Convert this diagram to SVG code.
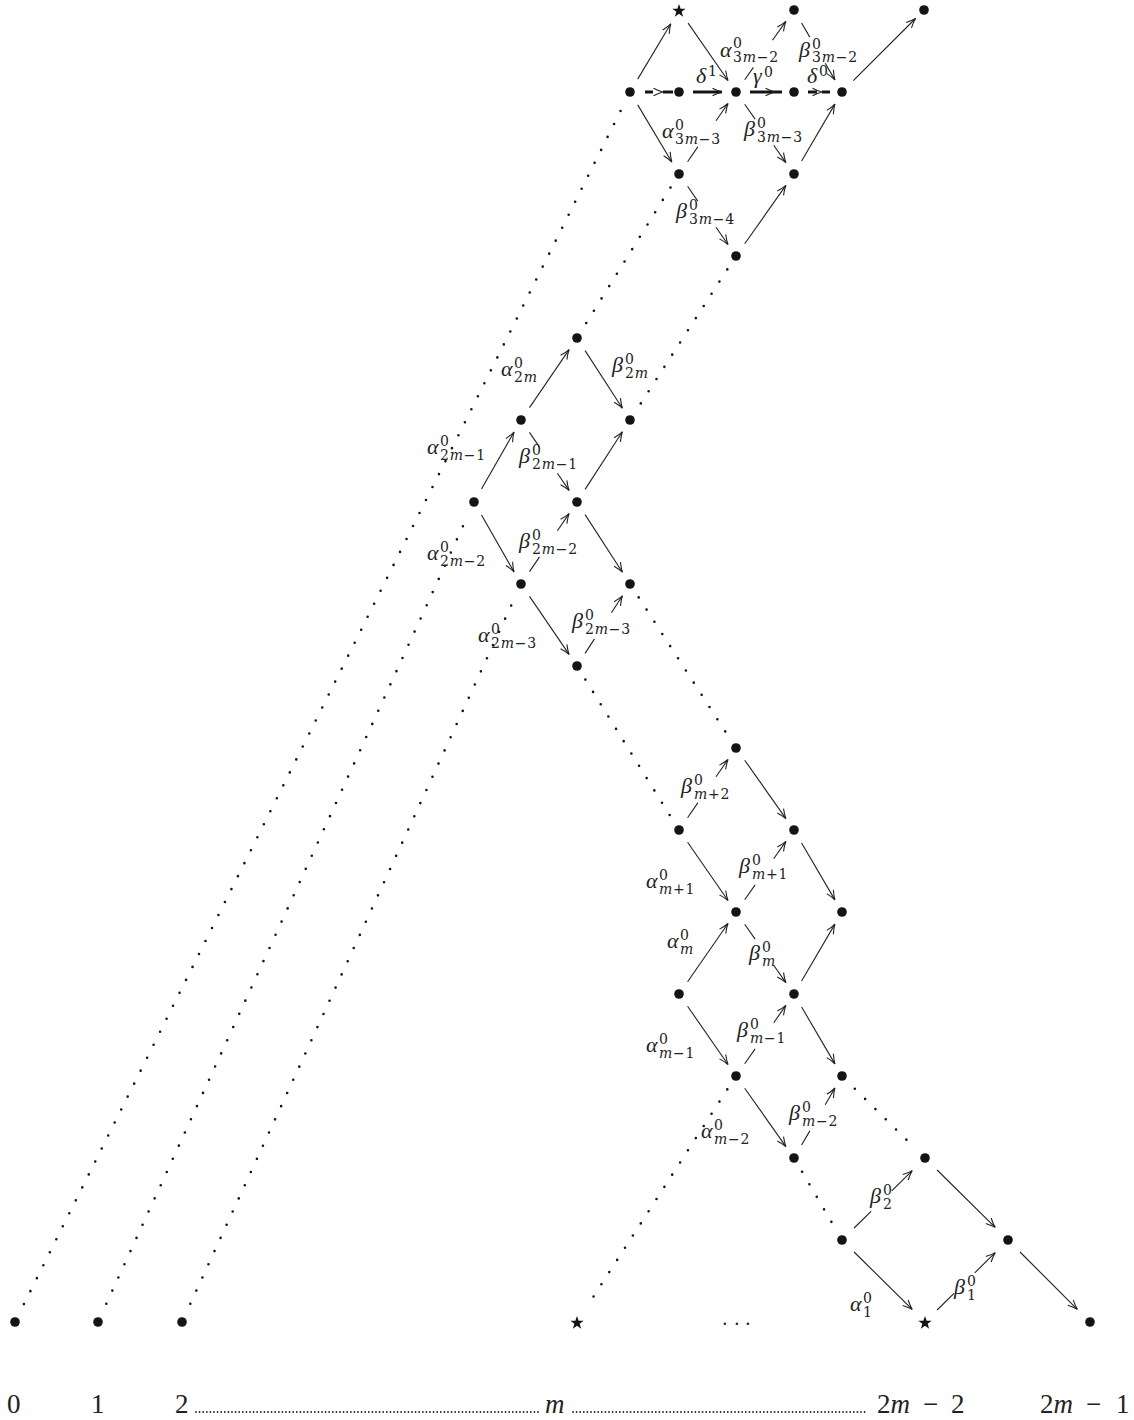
<svg xmlns="http://www.w3.org/2000/svg" width="1134" height="1420" viewBox="0 0 1134 1420">
<style>
.dot{fill:#141414}
.star{fill:#141414}
.arr{fill:none;stroke:#222;stroke-width:1.1;marker-end:url(#ah)}
.ahd{fill:none;stroke:#222;stroke-width:1.1}
.dots{fill:none;stroke:#141414;stroke-width:2.6;stroke-linecap:round;stroke-dasharray:0 14.5}
.dash{fill:none;stroke:#141414;stroke-width:3}
.fill{fill:none;stroke:#222;stroke-width:1.8;stroke-linecap:round;stroke-dasharray:0 3.6}
text{fill:#222}
.gk{font-family:"Liberation Serif",serif;font-style:italic;font-size:22px}
.sc{font-family:"DejaVu Serif",serif;font-size:14px;font-style:normal;letter-spacing:0.8px}
.it{font-style:italic}
.num{font-family:"Liberation Serif",serif;font-size:27px}
.dd{font-family:"Liberation Serif",serif;font-size:20px}
</style>
<defs>
<marker id="ah" viewBox="-11 -6 12 12" refX="0" refY="0" markerWidth="12" markerHeight="12" markerUnits="userSpaceOnUse" orient="auto" overflow="visible">
<path d="M-9.5,-3.8 Q-4,-1 0,0 Q-4,1 -9.5,3.8" fill="none" stroke="#222" stroke-width="1.1"/>
</marker>
<polygon id="st" points="0,-7 1.65,-2.27 6.66,-2.16 2.66,0.87 4.11,5.66 0,2.8 -4.11,5.66 -2.66,0.87 -6.66,-2.16 -1.65,-2.27"/>
</defs>

<g id="connectors">
<g id="dotted-lines">
<path class="dots" d="M23.9,1304.1 L621.1,109.9"/>
<path class="dots" d="M106.3,1303.8 L466.5,518.4"/>
<path class="dots" d="M190.3,1303.8 L513.5,600.4"/>
<path class="dots" d="M670.5,187.6 L585.4,324.4"/>
<path class="dots" d="M727.3,269.4 L638.7,406.6"/>
<path class="dots" d="M638.7,597.4 L727.3,734.6"/>
<path class="dots" d="M585.4,679.6 L670.5,816.4"/>
<path class="dots" d="M727.3,1089.4 L586.8,1306.9"/>
<path class="dots" d="M854.8,1088.7 L913.6,1146.8"/>
<path class="dots" d="M802.1,1171.8 L833.9,1226.2"/>
</g>
<g id="dashed-arrows">
<path class="dash" d="M645,92 H653 M663,92 H673"/>
<path class="ahd" d="M653.5,88.2 Q659,91 663,92 Q659,93 653.5,95.8"/>
<path class="dash" d="M693,92 H722"/>
<path class="ahd" d="M712.5,88.2 Q718,91 722,92 Q718,93 712.5,95.8"/>
<path class="dash" d="M750,92 H782"/>
<path class="ahd" d="M765.5,88.2 Q771,91 775,92 Q771,93 765.5,95.8"/>
<path class="dash" d="M808,92 H817 M822,92 H830"/>
<path class="ahd" d="M812.5,88.2 Q818,91 822,92 Q818,93 812.5,95.8"/>
</g>
<g id="arrows">
<path class="arr" d="M637.7,79.1 L670.8,23.8"/>
<path class="arr" d="M688.1,23.1 L728,80.5"/>
<path class="arr" d="M744.7,79.8 L753.4,67.4 M772.5,40.3 L785.9,21.4"/>
<path class="arr" d="M801.6,23 L809.8,37.1 M825.2,63.3 L834.9,79.9"/>
<path class="arr" d="M853.3,80.7 L915.5,18.5"/>
<path class="arr" d="M637.7,104.9 L671.8,162"/>
<path class="arr" d="M687.6,161.7 L697.8,146.9 M716,120.7 L728,103.5"/>
<path class="arr" d="M744.7,104.2 L755.1,119.1 M773.7,145.3 L785.9,162.6"/>
<path class="arr" d="M801.6,161 L834.9,104.1"/>
<path class="arr" d="M687.6,186.3 L697.8,201.1 M716,227.3 L728,244.5"/>
<path class="arr" d="M744.7,243.8 L785.9,185.4"/>
<path class="arr" d="M529.5,407.6 L569.1,349.6"/>
<path class="arr" d="M585.1,350.6 L622.4,408.2"/>
<path class="arr" d="M481.5,489 L514,432.1"/>
<path class="arr" d="M529.5,432.4 L539.5,447.1 M557.4,473.3 L569.1,490.4"/>
<path class="arr" d="M585.1,489.4 L622.4,431.8"/>
<path class="arr" d="M481.5,515 L514,571.9"/>
<path class="arr" d="M529.5,571.6 L539.5,556.9 M557.4,530.7 L569.1,513.6"/>
<path class="arr" d="M585.1,514.6 L622.4,572.2"/>
<path class="arr" d="M529.5,596.4 L569.1,654.4"/>
<path class="arr" d="M585.1,653.4 L594.5,638.9 M611.5,612.7 L622.4,595.8"/>
<path class="arr" d="M687.6,817.7 L697.8,802.9 M716,776.7 L728,759.5"/>
<path class="arr" d="M744.7,760.2 L785.9,818.6"/>
<path class="arr" d="M687.6,842.3 L728,900.5"/>
<path class="arr" d="M744.7,899.8 L755.1,884.9 M773.7,858.7 L785.9,841.4"/>
<path class="arr" d="M801.6,843 L834.9,899.9"/>
<path class="arr" d="M687.6,981.7 L728,923.5"/>
<path class="arr" d="M744.7,924.2 L755.1,939.1 M773.7,965.3 L785.9,982.6"/>
<path class="arr" d="M801.6,981 L834.9,924.1"/>
<path class="arr" d="M687.6,1006.3 L728,1064.5"/>
<path class="arr" d="M744.7,1063.8 L755.1,1048.9 M773.7,1022.7 L785.9,1005.4"/>
<path class="arr" d="M801.6,1007 L834.9,1063.9"/>
<path class="arr" d="M744.7,1088.2 L785.9,1146.6"/>
<path class="arr" d="M801.6,1145 L809.8,1130.9 M825.2,1104.7 L834.9,1088"/>
<path class="arr" d="M854.1,1228 L871.1,1211.3 M891.8,1190.8 L912.2,1170.6"/>
<path class="arr" d="M937.1,1170 L995.2,1227.4"/>
<path class="arr" d="M854.1,1252 L912.2,1309.4"/>
<path class="arr" d="M937.1,1310 L954,1293.3 M974.8,1272.8 L995.2,1252.6"/>
<path class="arr" d="M1020,1252 L1077.3,1309.3"/>
</g>
<g id="edge-labels">
<text><tspan class="gk" x="720" y="56.5">α</tspan><tspan class="sc" x="733" y="48">0</tspan><tspan class="sc" x="733" y="61.5">3<tspan class="it">m</tspan>−2</tspan></text>
<text><tspan class="gk" x="799" y="57">β</tspan><tspan class="sc" x="812" y="48.5">0</tspan><tspan class="sc" x="812" y="62">3<tspan class="it">m</tspan>−2</tspan></text>
<text><tspan class="gk" x="696" y="83">δ</tspan><tspan class="sc" x="708" y="75.5">1</tspan></text>
<text><tspan class="gk" x="753" y="83">γ</tspan><tspan class="sc" x="764" y="76.5">0</tspan></text>
<text><tspan class="gk" x="807" y="83">δ</tspan><tspan class="sc" x="819" y="75.5">0</tspan></text>
<text><tspan class="gk" x="662" y="138">α</tspan><tspan class="sc" x="675" y="129.5">0</tspan><tspan class="sc" x="675" y="143.5">3<tspan class="it">m</tspan>−3</tspan></text>
<text><tspan class="gk" x="744" y="136">β</tspan><tspan class="sc" x="757" y="127.5">0</tspan><tspan class="sc" x="757" y="141.5">3<tspan class="it">m</tspan>−3</tspan></text>
<text><tspan class="gk" x="676" y="218">β</tspan><tspan class="sc" x="689" y="209.5">0</tspan><tspan class="sc" x="689" y="223.5">3<tspan class="it">m</tspan>−4</tspan></text>
<text><tspan class="gk" x="501" y="376">α</tspan><tspan class="sc" x="514" y="367.5">0</tspan><tspan class="sc" x="514" y="381.5">2<tspan class="it">m</tspan></tspan></text>
<text><tspan class="gk" x="612" y="372">β</tspan><tspan class="sc" x="625" y="363.5">0</tspan><tspan class="sc" x="625" y="377.5">2<tspan class="it">m</tspan></tspan></text>
<text><tspan class="gk" x="427" y="454">α</tspan><tspan class="sc" x="440" y="445.5">0</tspan><tspan class="sc" x="440" y="459.5">2<tspan class="it">m</tspan>−1</tspan></text>
<text><tspan class="gk" x="519" y="463">β</tspan><tspan class="sc" x="532" y="454.5">0</tspan><tspan class="sc" x="532" y="468.5">2<tspan class="it">m</tspan>−1</tspan></text>
<text><tspan class="gk" x="427" y="560">α</tspan><tspan class="sc" x="440" y="551.5">0</tspan><tspan class="sc" x="440" y="565.5">2<tspan class="it">m</tspan>−2</tspan></text>
<text><tspan class="gk" x="519" y="548">β</tspan><tspan class="sc" x="532" y="539.5">0</tspan><tspan class="sc" x="532" y="553.5">2<tspan class="it">m</tspan>−2</tspan></text>
<text><tspan class="gk" x="478" y="642">α</tspan><tspan class="sc" x="491" y="633.5">0</tspan><tspan class="sc" x="491" y="647.5">2<tspan class="it">m</tspan>−3</tspan></text>
<text><tspan class="gk" x="572" y="628">β</tspan><tspan class="sc" x="585" y="619.5">0</tspan><tspan class="sc" x="585" y="633.5">2<tspan class="it">m</tspan>−3</tspan></text>
<text><tspan class="gk" x="681" y="793">β</tspan><tspan class="sc" x="694" y="784.5">0</tspan><tspan class="sc" x="694" y="798.5"><tspan class="it">m</tspan>+2</tspan></text>
<text><tspan class="gk" x="646" y="888">α</tspan><tspan class="sc" x="659" y="879.5">0</tspan><tspan class="sc" x="659" y="893.5"><tspan class="it">m</tspan>+1</tspan></text>
<text><tspan class="gk" x="739" y="873">β</tspan><tspan class="sc" x="752" y="864.5">0</tspan><tspan class="sc" x="752" y="878.5"><tspan class="it">m</tspan>+1</tspan></text>
<text><tspan class="gk" x="667" y="948">α</tspan><tspan class="sc" x="680" y="939.5">0</tspan><tspan class="sc it" x="680" y="953.5">m</tspan></text>
<text><tspan class="gk" x="749" y="960">β</tspan><tspan class="sc" x="762" y="951.5">0</tspan><tspan class="sc it" x="762" y="965.5">m</tspan></text>
<text><tspan class="gk" x="646" y="1052">α</tspan><tspan class="sc" x="659" y="1043.5">0</tspan><tspan class="sc" x="659" y="1057.5"><tspan class="it">m</tspan>−1</tspan></text>
<text><tspan class="gk" x="737" y="1037">β</tspan><tspan class="sc" x="750" y="1028.5">0</tspan><tspan class="sc" x="750" y="1042.5"><tspan class="it">m</tspan>−1</tspan></text>
<text><tspan class="gk" x="701" y="1138">α</tspan><tspan class="sc" x="714" y="1129.5">0</tspan><tspan class="sc" x="714" y="1143.5"><tspan class="it">m</tspan>−2</tspan></text>
<text><tspan class="gk" x="789" y="1120">β</tspan><tspan class="sc" x="802" y="1111.5">0</tspan><tspan class="sc" x="802" y="1125.5"><tspan class="it">m</tspan>−2</tspan></text>
<text><tspan class="gk" x="870" y="1203">β</tspan><tspan class="sc" x="883" y="1194.5">0</tspan><tspan class="sc" x="883" y="1208.5">2</tspan></text>
<text><tspan class="gk" x="850" y="1311">α</tspan><tspan class="sc" x="863" y="1302.5">0</tspan><tspan class="sc" x="863" y="1316.5">1</tspan></text>
<text><tspan class="gk" x="954" y="1294">β</tspan><tspan class="sc" x="967" y="1285.5">0</tspan><tspan class="sc" x="967" y="1299.5">1</tspan></text>
</g>
</g>

<g id="nodes">
<g id="n-star-top"><use href="#st" class="star" x="679" y="11"/></g>
<g id="n-0-794"><circle class="dot" cx="794" cy="10" r="4.8"/></g>
<g id="n-0-924"><circle class="dot" cx="924" cy="10" r="4.8"/></g>
<g id="n-1-630"><circle class="dot" cx="630" cy="92" r="4.8"/></g>
<g id="n-1-679"><circle class="dot" cx="679" cy="92" r="4.8"/></g>
<g id="n-1-736"><circle class="dot" cx="736" cy="92" r="4.8"/></g>
<g id="n-1-794"><circle class="dot" cx="794" cy="92" r="4.8"/></g>
<g id="n-1-842"><circle class="dot" cx="842" cy="92" r="4.8"/></g>
<g id="n-2-679"><circle class="dot" cx="679" cy="174" r="4.8"/></g>
<g id="n-2-794"><circle class="dot" cx="794" cy="174" r="4.8"/></g>
<g id="n-3-736"><circle class="dot" cx="736" cy="256" r="4.8"/></g>
<g id="n-4-577"><circle class="dot" cx="577" cy="338" r="4.8"/></g>
<g id="n-5-521"><circle class="dot" cx="521" cy="420" r="4.8"/></g>
<g id="n-5-630"><circle class="dot" cx="630" cy="420" r="4.8"/></g>
<g id="n-6-474"><circle class="dot" cx="474" cy="502" r="4.8"/></g>
<g id="n-6-577"><circle class="dot" cx="577" cy="502" r="4.8"/></g>
<g id="n-7-521"><circle class="dot" cx="521" cy="584" r="4.8"/></g>
<g id="n-7-630"><circle class="dot" cx="630" cy="584" r="4.8"/></g>
<g id="n-8-577"><circle class="dot" cx="577" cy="666" r="4.8"/></g>
<g id="n-9-736"><circle class="dot" cx="736" cy="748" r="4.8"/></g>
<g id="n-10-679"><circle class="dot" cx="679" cy="830" r="4.8"/></g>
<g id="n-10-794"><circle class="dot" cx="794" cy="830" r="4.8"/></g>
<g id="n-11-736"><circle class="dot" cx="736" cy="912" r="4.8"/></g>
<g id="n-11-842"><circle class="dot" cx="842" cy="912" r="4.8"/></g>
<g id="n-12-679"><circle class="dot" cx="679" cy="994" r="4.8"/></g>
<g id="n-12-794"><circle class="dot" cx="794" cy="994" r="4.8"/></g>
<g id="n-13-736"><circle class="dot" cx="736" cy="1076" r="4.8"/></g>
<g id="n-13-842"><circle class="dot" cx="842" cy="1076" r="4.8"/></g>
<g id="n-14-794"><circle class="dot" cx="794" cy="1158" r="4.8"/></g>
<g id="n-14-925"><circle class="dot" cx="925" cy="1158" r="4.8"/></g>
<g id="n-15-842"><circle class="dot" cx="842" cy="1240" r="4.8"/></g>
<g id="n-15-1008"><circle class="dot" cx="1008" cy="1240" r="4.8"/></g>
<g id="n-16-15"><circle class="dot" cx="15" cy="1322" r="4.8"/></g>
<g id="n-16-98"><circle class="dot" cx="98" cy="1322" r="4.8"/></g>
<g id="n-16-182"><circle class="dot" cx="182" cy="1322" r="4.8"/></g>
<g id="n-star-m"><use href="#st" class="star" x="577" y="1323"/></g>
<g id="n-cdots"><text class="dd" y="1331"><tspan x="721.5">·</tspan><tspan x="733.5">·</tspan><tspan x="744.5">·</tspan></text></g>
<g id="n-star-right"><use href="#st" class="star" x="925" y="1323"/></g>
<g id="n-16-1090"><circle class="dot" cx="1090" cy="1322" r="4.8"/></g>
</g>

<g id="axis">
<text class="num" x="7" y="1413">0</text>
<text class="num" x="91" y="1413">1</text>
<text class="num" x="175" y="1413">2</text>
<line class="fill" x1="196" y1="1412" x2="540" y2="1412"/>
<text class="num it" x="545" y="1413">m</text>
<line class="fill" x1="573" y1="1412" x2="868" y2="1412"/>
<text class="num" x="877" y="1413">2<tspan class="it">m</tspan><tspan x="923">−</tspan><tspan x="951">2</tspan></text>
<text class="num" x="1040" y="1413">2<tspan class="it">m</tspan><tspan x="1086">−</tspan><tspan x="1116">1</tspan></text>
</g>
</svg>
